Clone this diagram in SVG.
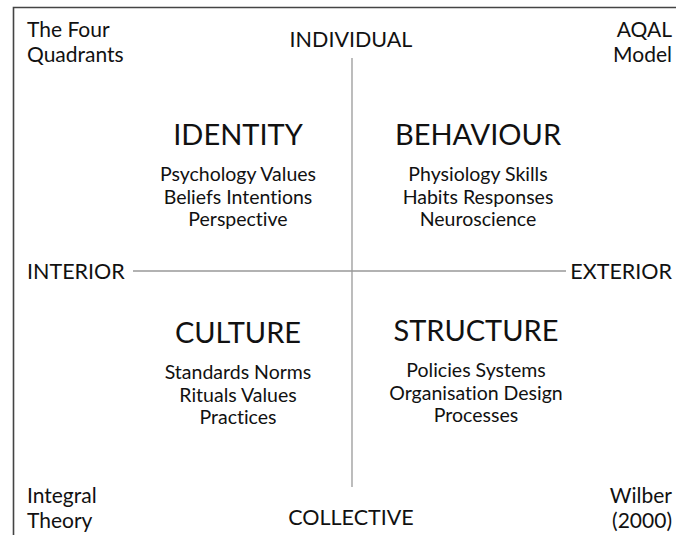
<svg xmlns="http://www.w3.org/2000/svg" width="676" height="535" viewBox="0 0 676 535">
  <style>
    text { font-family: Lato, "Open Sans", "Liberation Sans", sans-serif; fill: #111; font-variant-ligatures: none; }
    .corner { font-size: 21px; }
    .axis { font-size: 21.5px; }
    .title { font-size: 29px; text-anchor: middle; }
    .item { font-size: 19.5px; text-anchor: middle; }
    .frame { fill: none; stroke: #444; stroke-width: 1.6; }
    .line { stroke: #999; stroke-width: 1.3; fill: none; }
  </style>
  <rect width="676" height="535" fill="#fff"/>
  <!-- outer frame: only top and left edges fall inside the canvas -->
  <path class="frame" d="M13.5 540 V7.5 H680"/>

  <g id="connectors">
    <line class="line" x1="352" y1="58" x2="352" y2="487"/>
    <line class="line" x1="133" y1="271" x2="566" y2="271"/>
  </g>

  <g id="corner-labels" class="corner">
    <text x="27" y="37">The Four</text>
    <text x="27" y="62">Quadrants</text>
    <text x="672" y="37" text-anchor="end">AQAL</text>
    <text x="672" y="62" text-anchor="end">Model</text>
    <text x="27" y="503">Integral</text>
    <text x="27" y="528">Theory</text>
    <text x="672" y="503" text-anchor="end">Wilber</text>
    <text x="672" y="528" text-anchor="end">(2000)</text>
  </g>

  <g id="axis-labels" class="axis">
    <text x="351" y="47" text-anchor="middle">INDIVIDUAL</text>
    <text x="351" y="525" text-anchor="middle">COLLECTIVE</text>
    <text x="27" y="279">INTERIOR</text>
    <text x="672" y="279" text-anchor="end">EXTERIOR</text>
  </g>

  <g id="identity">
    <text class="title" x="238" y="145">IDENTITY</text>
    <text class="item" x="238" y="181">Psychology Values</text>
    <text class="item" x="238" y="203.5">Beliefs Intentions</text>
    <text class="item" x="238" y="225.5">Perspective</text>
  </g>

  <g id="behaviour">
    <text class="title" x="478" y="145">BEHAVIOUR</text>
    <text class="item" x="478" y="181">Physiology Skills</text>
    <text class="item" x="478" y="203.5">Habits Responses</text>
    <text class="item" x="478" y="225.5">Neuroscience</text>
  </g>

  <g id="culture">
    <text class="title" x="238" y="343">CULTURE</text>
    <text class="item" x="238" y="379">Standards Norms</text>
    <text class="item" x="238" y="401.5">Rituals Values</text>
    <text class="item" x="238" y="424">Practices</text>
  </g>

  <g id="structure">
    <text class="title" x="476" y="341">STRUCTURE</text>
    <text class="item" x="476" y="377">Policies Systems</text>
    <text class="item" x="476" y="399.5">Organisation Design</text>
    <text class="item" x="476" y="422">Processes</text>
  </g>
</svg>
